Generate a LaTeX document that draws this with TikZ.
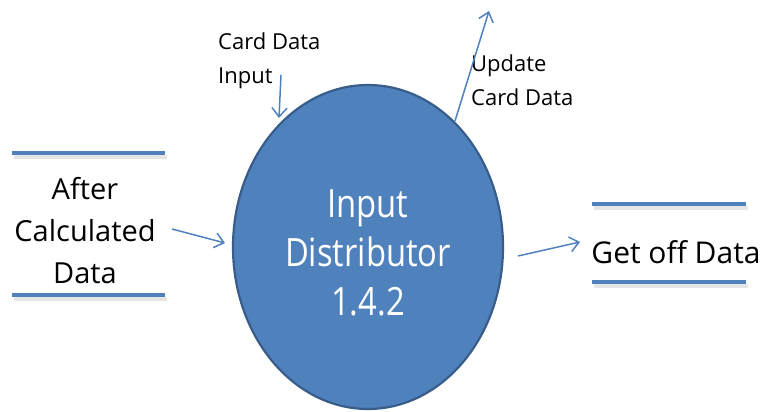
\documentclass[tikz,border=0pt]{standalone}
\usepackage{fontspec}
\setmainfont{Open Sans}
\newfontfamily\procfont[FakeStretch=0.84]{Open Sans}
\usetikzlibrary{shapes.geometric,arrows.meta}
\definecolor{fillblue}{HTML}{4F81BD}
\definecolor{edgeblue}{HTML}{385D8A}
\begin{document}
\begin{tikzpicture}[x=1pt,y=-1pt,
  proc/.style={ellipse, fill=fillblue, draw=edgeblue, line width=2.2pt, inner sep=0pt,
    minimum width=270pt, minimum height=324pt, text=white, align=center,
    font=\procfont\fontsize{39}{49}\selectfont},
  storetext/.style={align=center, inner sep=0pt, font=\fontsize{29}{42}\selectfont},
  storeline/.style={fillblue, line width=4pt},
  storeshadow/.style={black!10, line width=3.5pt},
  smalltext/.style={align=left, inner sep=0pt, font=\fontsize{22}{34}\selectfont},
  flow/.style={fillblue, line width=1.5pt, -{Straight Barb[length=9pt,width=15pt,line width=1.5pt]}}]
\useasboundingbox (0,0) rectangle (768,412);
% process
\node[proc] (proc) at (368,247) {\rule{0pt}{40pt}Input\\Distributor\\1.4.2};
% left data store
\node[storetext] (after) at (85,231) {After\\Calculated\\Data};
\draw[storeshadow] (14,157) -- (167,157);
\draw[storeshadow] (14,299) -- (167,299);
\draw[storeline] (12,153) -- (165,153);
\draw[storeline] (12,295) -- (165,295);
% right data store
\node[storetext, font=\fontsize{30}{40}\selectfont] (getoff) at (676,252) {Get off Data};
\draw[storeshadow] (594,208) -- (748,208);
\draw[storeshadow] (594,286) -- (748,286);
\draw[storeline] (592,204) -- (746,204);
\draw[storeline] (592,282) -- (746,282);
% labels
\node[smalltext, anchor=north west] (cardin) at (218,33) {Card Data\\Input};
\node[smalltext, anchor=north west] (update) at (471,55) {Update\\Card Data};
% connectors
\coordinate (inS) at (281,75);
\coordinate (inE) at (279,118);
\coordinate (upS) at (455,121);
\coordinate (upE) at (489,11);
\coordinate (aS) at (172,229);
\coordinate (aE) at (225,243);
\coordinate (gS) at (518,256);
\coordinate (gE) at (580,242);
\draw[flow] (inS) -- (inE);
\draw[flow] (upS) -- (upE);
\draw[flow] (aS) -- (aE);
\draw[flow] (gS) -- (gE);
\end{tikzpicture}
\end{document}
